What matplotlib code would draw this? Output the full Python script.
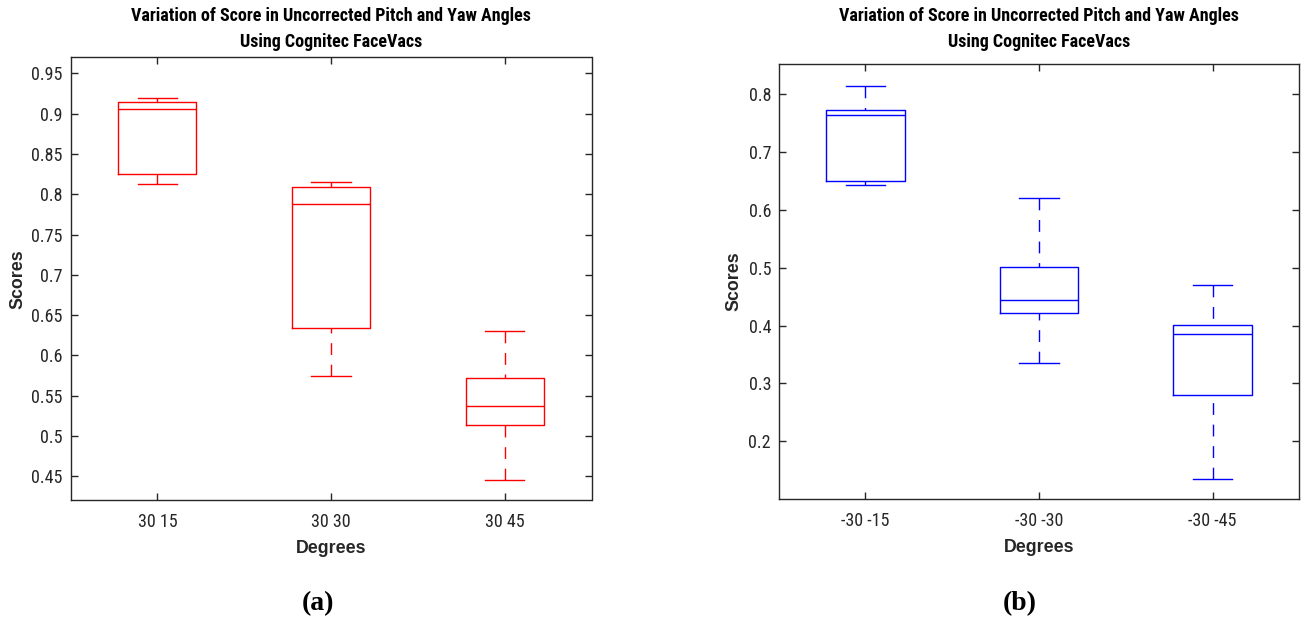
import matplotlib
matplotlib.use("Agg")
import matplotlib.pyplot as plt
from matplotlib.ticker import FuncFormatter

# ---- data: five-number summaries per pose ----
labels_a = ["30 15", "30 30", "30 45"]
whislo_a = [0.8128, 0.5743, 0.4454]
q1_a = [0.8247, 0.6334, 0.5137]
med_a = [0.9053, 0.7883, 0.5376]
q3_a = [0.9144, 0.8086, 0.5722]
whishi_a = [0.9197, 0.8156, 0.6297]

labels_b = ["-30 -15", "-30 -30", "-30 -45"]
whislo_b = [0.642, 0.3362, 0.135]
q1_b = [0.6505, 0.4217, 0.2793]
med_b = [0.764, 0.4448, 0.385]
q3_b = [0.773, 0.5017, 0.4017]
whishi_b = [0.813, 0.620, 0.4695]

title_text = "Variation of Score in Uncorrected Pitch and Yaw Angles\nUsing Cognitec FaceVacs"
ylims_a = (0.4202, 0.9699)
ylims_b = (0.100, 0.8517)
yticks_a = [0.45, 0.5, 0.55, 0.6, 0.65, 0.7, 0.75, 0.8, 0.85, 0.9, 0.95]
yticks_b = [0.2, 0.3, 0.4, 0.5, 0.6, 0.7, 0.8]

AX_COLOR = "#262626"
NARROW = ["Liberation Sans Narrow", "Roboto Condensed", "Roboto"]

W, H = 1303, 622
fig = plt.figure(figsize=(W / 100, H / 100), dpi=100)


def px_rect(left, top, right, bottom):
    return [left / W, 1 - bottom / H, (right - left) / W, (bottom - top) / H]


def draw_panel(rect, labels, whislo, q1, med, q3, whishi, color, ylims, yticks,
               ylabel_x, tag, tag_x):
    ax = fig.add_axes(rect)
    stats = []
    for lab, lo, a, m, b, hi in zip(labels, whislo, q1, med, q3, whishi):
        stats.append(dict(label=lab, whislo=lo, q1=a, med=m, q3=b, whishi=hi, fliers=[]))
    art = ax.bxp(stats, positions=[1, 2, 3], widths=0.45, showfliers=False,
                 boxprops=dict(color=color, linewidth=1.0),
                 medianprops=dict(color=color, linewidth=1.0),
                 whiskerprops=dict(color=color, linewidth=1.0, linestyle=(0, (8.5, 7))),
                 capprops=dict(color=color, linewidth=1.0))
    # dash pattern starts at the cap end, as in the MATLAB style
    for line in art["whiskers"]:
        line.set_ydata(line.get_ydata()[::-1])

    ax.set_xlim(0.5, 3.5)
    ax.set_ylim(*ylims)
    ax.set_yticks(yticks)
    ax.yaxis.set_major_formatter(FuncFormatter(lambda v, p: f"{v:g}"))
    ax.set_xticks([1, 2, 3])
    ax.set_xticklabels(labels)

    for sp in ax.spines.values():
        sp.set_color(AX_COLOR)
        sp.set_linewidth(1.0)
    ax.tick_params(axis="both", direction="in", length=4.8, width=1.0, color=AX_COLOR,
                   labelcolor=AX_COLOR, top=True, right=True, labelsize=13)
    ax.tick_params(axis="y", pad=5.5)
    ax.tick_params(axis="x", pad=9.5)
    for t in ax.get_xticklabels() + ax.get_yticklabels():
        t.set_fontfamily(NARROW)

    ax.set_xlabel("Degrees", fontsize=12.8, fontweight="bold", color=AX_COLOR,
                  family="Liberation Sans", labelpad=6)
    ax.set_ylabel("Scores", fontsize=12.8, fontweight="bold", color=AX_COLOR,
                  family="Liberation Sans")
    ax.yaxis.set_label_coords(ylabel_x, 0.5)

    top_px = (1 - rect[1] - rect[3]) * H
    ax.text(0.5, 1 + (top_px - 29) / (rect[3] * H), title_text,
            transform=ax.transAxes, ha="center", va="center", multialignment="center",
            fontsize=13, fontweight="bold", family=NARROW, color="black",
            linespacing=1.55)

    fig.text(tag_x / W, 1 - 604 / H, tag, ha="center", va="center",
             fontsize=20, fontweight="bold", family="Liberation Serif", color="black")
    return ax


draw_panel(px_rect(70.5, 57.3, 591.5, 500.3), labels_a, whislo_a, q1_a, med_a, q3_a,
           whishi_a, "#FF0000", ylims_a, yticks_a, -0.085, "(a)", 318)
draw_panel(px_rect(778.7, 64.0, 1299.3, 499.3), labels_b, whislo_b, q1_b, med_b, q3_b,
           whishi_b, "#0000FF", ylims_b, yticks_b, -0.069, "(b)", 1020)

fig.savefig("out.png", dpi=100, facecolor="white")
